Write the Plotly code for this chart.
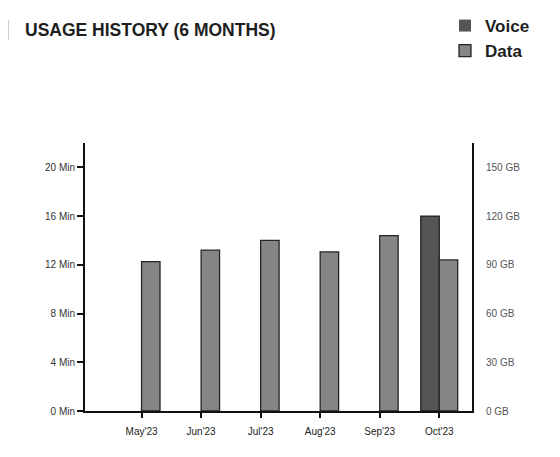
import plotly.graph_objects as go

months = ["May'23", "Jun'23", "Jul'23", "Aug'23", "Sep'23", "Oct'23"]
voice_min = [0, 0, 0, 0, 0, 16]
data_gb = [92, 99, 105, 98, 108, 93]
voice_ticks = [0, 4, 8, 12, 16, 20]
data_ticks = [0, 30, 60, 90, 120, 150]

# page body has an 8px margin, so lay the figure out in shifted coordinates
OFF = 8
W, H = 560 - OFF, 457 - OFF
L, R, T, B = 85 - OFF, 88, 143 - OFF, 46
pw, ph = W - L - R, H - T - B

def px_x(x):
    return (x - OFF - L) / pw

def px_y(y):
    return (H - B - (y - OFF)) / ph

fig = go.Figure()
fig.add_trace(go.Bar(
    x=months, y=voice_min, name="Voice", yaxis="y",
    width=0.31, offset=-0.31,
    marker=dict(color="#555555",
                line=dict(color="#1e1e1e", width=[0 if v == 0 else 1.3 for v in voice_min])),
))
fig.add_trace(go.Bar(
    x=months, y=data_gb, name="Data", yaxis="y2",
    width=0.31, offset=0.0,
    marker=dict(color="#858585", line=dict(color="#262626", width=1.3)),
))

fig.update_layout(
    width=W, height=H,
    margin=dict(l=L, r=R, t=T, b=B, pad=0, autoexpand=False),
    paper_bgcolor="white", plot_bgcolor="white",
    font=dict(family="Liberation Sans, Arial, sans-serif", color="#222"),
    title=dict(
        text="USAGE HISTORY (6 MONTHS)",
        font=dict(family="Liberation Sans, Arial, sans-serif",
                  size=17.5, color="#1e1e1e", weight="bold"),
        x=(25 - OFF) / W, xanchor="left", xref="container",
        y=1 - (30 - OFF) / H, yanchor="middle", yref="container",
    ),
    showlegend=True,
    legend=dict(
        x=(445 - OFF) / W, xref="container", xanchor="left",
        y=1 + 4 / H, yref="container", yanchor="top",
        font=dict(size=17, color="#1e1e1e", weight="bold"),
        bgcolor="rgba(0,0,0,0)", itemwidth=30,
    ),
    xaxis=dict(
        type="category", range=[-0.95, 5.55],
        showline=True, linecolor="#111", linewidth=2,
        ticks="outside", ticklen=5, tickwidth=1.5, tickcolor="#111",
        ticklabelstandoff=5,
        tickfont=dict(size=10, color="#222"),
        showgrid=False, zeroline=False, fixedrange=True,
    ),
    yaxis=dict(
        range=[0, 22], tickvals=voice_ticks,
        ticktext=[f"{v} Min" for v in voice_ticks],
        showline=True, linecolor="#111", linewidth=2,
        ticks="outside", ticklen=6, tickwidth=1.5, tickcolor="#111",
        tickfont=dict(size=10, color="#333"),
        showgrid=False, zeroline=False,
    ),
    yaxis2=dict(
        range=[0, 165], tickvals=data_ticks,
        ticktext=[f"{v} GB" for v in data_ticks],
        overlaying="y", side="right",
        showline=True, linecolor="#111", linewidth=2,
        ticks="outside", ticklen=10, tickcolor="rgba(0,0,0,0)",
        tickfont=dict(size=10, color="#555"),
        showgrid=False, zeroline=False,
    ),
    shapes=[dict(
        type="rect", xref="paper", yref="paper",
        x0=px_x(7), x1=px_x(9), y0=px_y(40), y1=px_y(20),
        fillcolor="#cfcfcf", line=dict(width=0),
    )],
)

fig.write_html("out.html")
